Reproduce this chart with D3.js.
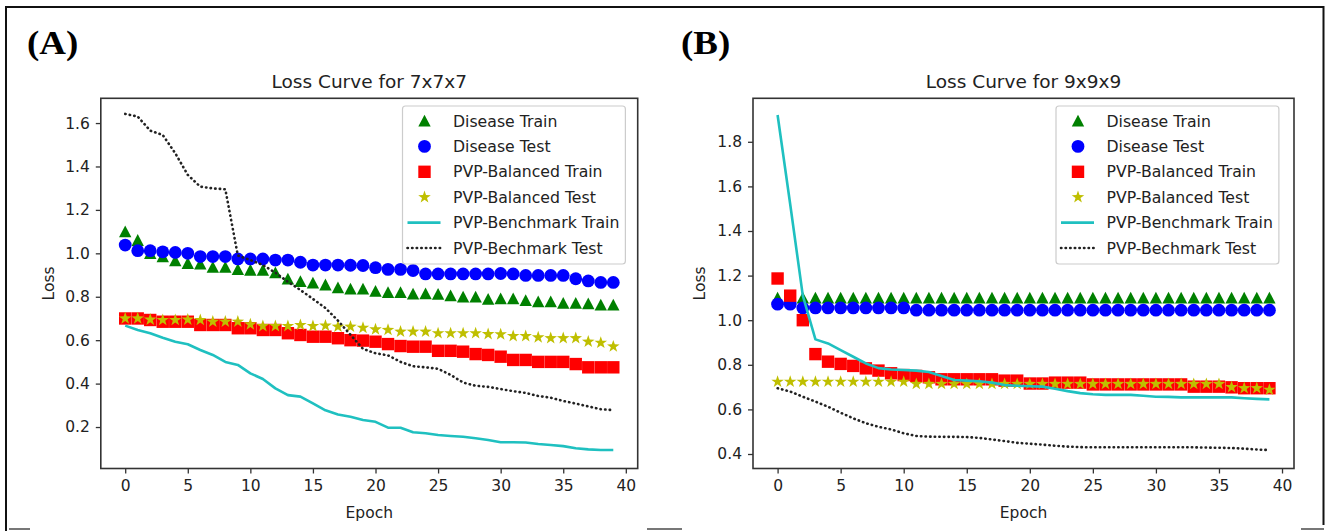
<!DOCTYPE html>
<html>
<head>
<meta charset="utf-8">
<script src="https://cdn.jsdelivr.net/npm/d3@7"></script>
<style>
  body { margin: 0; background: #fff; }
  svg { display: block; }
  text { font-family: "DejaVu Sans", sans-serif; fill: #222; }
</style>
</head>
<body>
<svg id="chart" width="1328" height="531"></svg>
<script>
// epochs on the x axis
const epochs = d3.range(40)
const seriesNames = ["Disease Train", "Disease Test", "PVP-Balanced Train", "PVP-Balanced Test", "PVP-Benchmark Train", "PVP-Bechmark Test"]
const xTicks = [0, 5, 10, 15, 20, 25, 30, 35, 40]

// (A) 7x7x7
const aTicksY = [0.2, 0.4, 0.6, 0.8, 1.0, 1.2, 1.4, 1.6]
const aDiseaseTrain = [1.10, 1.06, 1.00, 0.985, 0.966, 0.954, 0.951, 0.936, 0.936, 0.926, 0.923, 0.923, 0.911, 0.882, 0.871, 0.864, 0.855, 0.842, 0.836, 0.836,
  0.826, 0.82, 0.82, 0.813, 0.814, 0.812, 0.805, 0.799, 0.799, 0.789, 0.791, 0.791, 0.783, 0.777, 0.777, 0.77, 0.77, 0.768, 0.762, 0.762]
const aDiseaseTest = [1.038, 1.012, 1.012, 1.007, 1.004, 1.0, 0.985, 0.985, 0.985, 0.974, 0.974, 0.974, 0.969, 0.969, 0.959, 0.946, 0.946, 0.946, 0.945, 0.944,
  0.934, 0.926, 0.926, 0.921, 0.905, 0.905, 0.905, 0.905, 0.905, 0.905, 0.907, 0.905, 0.898, 0.898, 0.898, 0.898, 0.883, 0.873, 0.866, 0.866]
const aBalancedTrain = [0.70, 0.70, 0.693, 0.685, 0.685, 0.685, 0.67, 0.67, 0.67, 0.655, 0.655, 0.647, 0.647, 0.632, 0.624, 0.616, 0.616, 0.609, 0.60, 0.598,
  0.593, 0.582, 0.573, 0.57, 0.57, 0.551, 0.551, 0.547, 0.536, 0.532, 0.524, 0.509, 0.509, 0.50, 0.50, 0.50, 0.49, 0.475, 0.475, 0.475]
const aBalancedTest = [0.70, 0.70, 0.695, 0.693, 0.693, 0.695, 0.693, 0.685, 0.685, 0.685, 0.673, 0.665, 0.665, 0.665, 0.67, 0.665, 0.667, 0.662, 0.662, 0.657,
  0.65, 0.647, 0.639, 0.639, 0.639, 0.632, 0.632, 0.632, 0.632, 0.628, 0.627, 0.619, 0.619, 0.613, 0.609, 0.609, 0.609, 0.593, 0.588, 0.571]
const aBenchTrain = [0.667, 0.647, 0.632, 0.611, 0.593, 0.581, 0.555, 0.532, 0.50, 0.486, 0.447, 0.421, 0.378, 0.347, 0.34, 0.309, 0.277, 0.258, 0.247, 0.232,
  0.224, 0.197, 0.197, 0.176, 0.171, 0.163, 0.159, 0.155, 0.148, 0.14, 0.13, 0.13, 0.129, 0.122, 0.117, 0.112, 0.102, 0.097, 0.094, 0.094]
const aBenchTest = [1.642, 1.63, 1.565, 1.545, 1.461, 1.361, 1.307, 1.299, 1.295, 0.99, 0.969, 0.946, 0.911, 0.869, 0.831, 0.79, 0.748, 0.69, 0.625, 0.56,
  0.54, 0.53, 0.50, 0.48, 0.475, 0.468, 0.44, 0.405, 0.39, 0.385, 0.375, 0.365, 0.357, 0.343, 0.335, 0.32, 0.308, 0.295, 0.282, 0.278]

// (B) 9x9x9
const bTicksY = [0.4, 0.6, 0.8, 1.0, 1.2, 1.4, 1.6, 1.8]
const bDiseaseTrain = [1.10, 1.10, 1.10, 1.10, 1.10, 1.10, 1.10, 1.10, 1.10, 1.10, 1.10, 1.10, 1.10, 1.10, 1.10, 1.10, 1.10, 1.10, 1.10, 1.10,
  1.10, 1.10, 1.10, 1.10, 1.10, 1.10, 1.10, 1.10, 1.10, 1.10, 1.10, 1.10, 1.10, 1.10, 1.10, 1.10, 1.10, 1.10, 1.10, 1.10]
const bDiseaseTest = [1.072, 1.072, 1.055, 1.055, 1.055, 1.055, 1.055, 1.055, 1.055, 1.055, 1.055, 1.045, 1.045, 1.045, 1.045, 1.045, 1.045, 1.045, 1.045, 1.045,
  1.045, 1.045, 1.045, 1.045, 1.045, 1.045, 1.045, 1.045, 1.045, 1.045, 1.045, 1.045, 1.045, 1.045, 1.045, 1.045, 1.045, 1.045, 1.045, 1.045]
const bBalancedTrain = [1.187, 1.11, 1.0, 0.848, 0.814, 0.804, 0.795, 0.784, 0.774, 0.762, 0.754, 0.75, 0.744, 0.735, 0.735, 0.735, 0.735, 0.735, 0.729, 0.729,
  0.716, 0.716, 0.72, 0.72, 0.72, 0.712, 0.712, 0.712, 0.712, 0.712, 0.712, 0.712, 0.712, 0.702, 0.702, 0.702, 0.699, 0.695, 0.695, 0.695]
const bBalancedTest = [0.724, 0.724, 0.724, 0.724, 0.724, 0.724, 0.724, 0.724, 0.724, 0.724, 0.724, 0.714, 0.714, 0.714, 0.714, 0.714, 0.714, 0.714, 0.714, 0.714,
  0.714, 0.714, 0.714, 0.714, 0.714, 0.714, 0.714, 0.714, 0.714, 0.714, 0.714, 0.714, 0.714, 0.714, 0.714, 0.714, 0.70, 0.695, 0.695, 0.688]
const bBenchTrain = [1.92, 1.52, 1.11, 0.914, 0.896, 0.866, 0.836, 0.806, 0.785, 0.779, 0.777, 0.774, 0.768, 0.75, 0.732, 0.729, 0.726, 0.72, 0.709, 0.706,
  0.704, 0.702, 0.693, 0.682, 0.673, 0.668, 0.665, 0.665, 0.665, 0.661, 0.657, 0.656, 0.654, 0.654, 0.654, 0.654, 0.654, 0.65, 0.647, 0.645]
const bBenchTest = [0.695, 0.68, 0.657, 0.635, 0.612, 0.585, 0.56, 0.538, 0.522, 0.51, 0.493, 0.481, 0.478, 0.477, 0.477, 0.476, 0.472, 0.465, 0.458, 0.45,
  0.446, 0.442, 0.437, 0.433, 0.431, 0.43, 0.43, 0.43, 0.43, 0.43, 0.43, 0.43, 0.43, 0.43, 0.429, 0.428, 0.427, 0.424, 0.42, 0.418]

const styles = [
  {kind: "tri", color: "#008000"},
  {kind: "circle", color: "#0000ff"},
  {kind: "square", color: "#ff0000"},
  {kind: "star", color: "#bfbf00"},
  {kind: "line", color: "#1fc0c0"},
  {kind: "dot", color: "#222"}
]

const panels = [
  {label: "(A)", labelX: 27, title: "Loss Curve for 7x7x7", left: 100.8, right: 637.7, yDomain: [0.009, 1.714], yTicks: aTicksY,
   series: [aDiseaseTrain, aDiseaseTest, aBalancedTrain, aBalancedTest, aBenchTrain, aBenchTest], legendX: 402.5, ylabX: 48.7},
  {label: "(B)", labelX: 681, title: "Loss Curve for 9x9x9", left: 753, right: 1294, yDomain: [0.335, 1.995], yTicks: bTicksY,
   series: [bDiseaseTrain, bDiseaseTest, bBalancedTrain, bBalancedTest, bBenchTrain, bBenchTest], legendX: 1056, ylabX: 700}
]
const plotTop = 98.3, plotBottom = 468.5

let svg = d3.select("#chart")

// outer frame of the figure
let frame = svg.append("g").attr("stroke", "#111").attr("stroke-width", 2)
frame.append("path").attr("fill", "none").attr("d", "M6,531V7H1323.5V525")
frame.append("path").attr("stroke", "#777").attr("d", "M9,529H30M647,529H682M1301,529H1324")

function marker(g, kind, color) {
  if (kind == "tri") {
    g.append("path").attr("d", "M0,-6.2L-6.2,5.6L6.2,5.6Z").attr("fill", color)
  } else if (kind == "circle") {
    g.append("circle").attr("r", 6.4).attr("fill", color)
  } else if (kind == "square") {
    g.append("rect").attr("x", -6.2).attr("y", -6.2).attr("width", 12.4).attr("height", 12.4).attr("fill", color)
  } else if (kind == "star") {
    let pts = d3.range(10).map(function(i) {
      let r = i % 2 == 0 ? 6.6 : 2.6
      let a = -Math.PI / 2 + i * Math.PI / 5
      return [r * Math.cos(a), r * Math.sin(a)]
    })
    g.append("path").attr("d", "M" + pts.join("L") + "Z").attr("fill", color)
  }
}

function strokeStyle(sel, kind, color) {
  sel.attr("stroke", color)
     .attr("stroke-width", kind == "line" ? 2.6 : 2.6)
     .attr("stroke-dasharray", kind == "dot" ? "0.4,4.2" : null)
     .attr("stroke-linecap", kind == "dot" ? "round" : "butt")
}

panels.forEach(function(p) {
  let xScale = d3.scaleLinear().domain([-1.95, 40.95]).range([p.left, p.right])
  let yScale = d3.scaleLinear().domain(p.yDomain).range([plotBottom, plotTop])

  svg.append("text")
     .attr("x", p.labelX).attr("y", 54)
     .attr("transform", "translate(" + p.labelX + ",0) scale(1.12,1) translate(" + (-p.labelX) + ",0)")
     .style("font-family", "'Liberation Serif', 'Times New Roman', serif")
     .style("font-weight", "bold").style("font-size", "33px").style("fill", "#000")
     .text(p.label)

  svg.append("text")
     .attr("x", (p.left + p.right) / 2).attr("y", 88)
     .attr("text-anchor", "middle").style("font-size", "18.5px")
     .text(p.title)

  let xAxis = d3.axisBottom(xScale).tickValues(xTicks).tickSize(5).tickPadding(6).tickFormat(d3.format("d"))
  let yAxis = d3.axisLeft(yScale).tickValues(p.yTicks).tickSize(5).tickPadding(6).tickFormat(d3.format(".1f"))

  let gx = svg.append("g").attr("transform", "translate(0," + plotBottom + ")").call(xAxis)
  let gy = svg.append("g").attr("transform", "translate(" + p.left + ",0)").call(yAxis)
  ;[gx, gy].forEach(function(g) {
    g.select(".domain").remove()
    g.selectAll("line").attr("stroke", "#333").attr("stroke-width", 1.3)
    g.selectAll("text").style("font-size", "15.5px").style("font-family", "'DejaVu Sans', sans-serif").attr("fill", "#333")
  })

  svg.append("text")
     .attr("transform", "translate(" + p.ylabX + "," + (plotTop + plotBottom) / 2 + ") rotate(-90)")
     .attr("text-anchor", "middle").attr("dy", "0.35em").style("font-size", "15.5px")
     .text("Loss")
  svg.append("text")
     .attr("x", (p.left + p.right) / 2).attr("y", 518)
     .attr("text-anchor", "middle").style("font-size", "15.5px")
     .text("Epoch")

  let plot = svg.append("g")
  p.series.forEach(function(values, i) {
    let st = styles[i]
    let pts = epochs.map(function(e) { return [xScale(e), yScale(values[e])] })
    if (st.kind == "line" || st.kind == "dot") {
      let path = plot.append("path")
          .attr("d", d3.line()(pts))
          .attr("fill", "none")
          .attr("stroke-linejoin", "round")
      strokeStyle(path, st.kind, st.color)
    } else {
      pts.forEach(function(pt) {
        let g = plot.append("g").attr("transform", "translate(" + pt[0] + "," + pt[1] + ")")
        marker(g, st.kind, st.color)
      })
    }
  })

  // axes box
  svg.append("rect")
     .attr("x", p.left).attr("y", plotTop)
     .attr("width", p.right - p.left).attr("height", plotBottom - plotTop)
     .attr("fill", "none").attr("stroke", "#333").attr("stroke-width", 1.6)

  // legend
  let lg = svg.append("g")
  let box = lg.append("rect")
              .attr("x", p.legendX).attr("y", 106).attr("rx", 3)
              .attr("height", 158)
              .attr("fill", "#fff").attr("fill-opacity", 0.85)
              .attr("stroke", "#ccc").attr("stroke-width", 1.2)
  let maxW = 0
  seriesNames.forEach(function(name, i) {
    let y = 121 + i * 25.4
    let st = styles[i]
    if (st.kind == "line" || st.kind == "dot") {
      let ln = lg.append("line")
        .attr("x1", p.legendX + 5).attr("x2", p.legendX + 38)
        .attr("y1", y).attr("y2", y)
      strokeStyle(ln, st.kind, st.color)
    } else {
      let g = lg.append("g").attr("transform", "translate(" + (p.legendX + 22) + "," + y + ")")
      marker(g, st.kind, st.color)
    }
    let t = lg.append("text")
              .attr("x", p.legendX + 50.5).attr("y", y).attr("dy", "0.36em")
              .style("font-size", "15.7px")
              .text(name)
    maxW = Math.max(maxW, t.node().getComputedTextLength())
  })
  box.attr("width", 50.5 + maxW + 6)
})
</script>
</body>
</html>
